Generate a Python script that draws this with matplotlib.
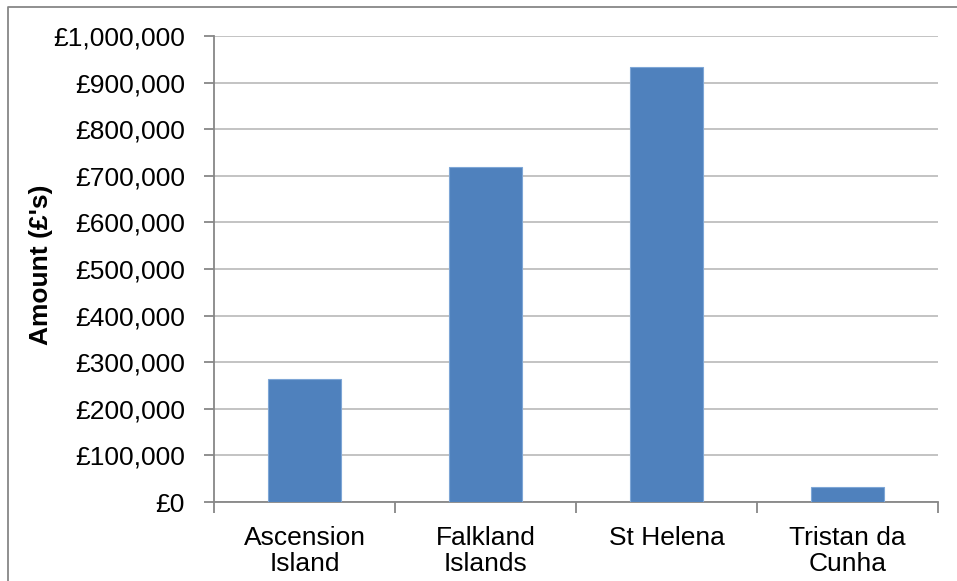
import numpy as np
import matplotlib.pyplot as plt
from matplotlib.lines import Line2D
from matplotlib.ticker import FuncFormatter

plt.rcParams['font.family'] = ['Liberation Sans', 'DejaVu Sans']

territories = ['Ascension\nIsland', 'Falkland\nIslands', 'St Helena', 'Tristan da\nCunha']
amounts = [264000, 719000, 933000, 32000]
y_ticks = np.arange(0, 1000001, 100000)

W, H = 957, 581
fig = plt.figure(figsize=(W / 100, H / 100), dpi=100)
ax = fig.add_axes([214 / W, 1 - 502 / H, (938 - 214) / W, (502 - 36) / H])

x = np.arange(len(territories))
ax.bar(x, amounts, width=0.4, color='#4F81BD', edgecolor='#7EA6D6', linewidth=0.8, zorder=3)

ax.set_xlim(-0.5, len(territories) - 0.5)
ax.set_ylim(0, 1000000)
ax.set_yticks(y_ticks)
ax.yaxis.set_major_formatter(FuncFormatter(lambda v, p: '£{:,.0f}'.format(v)))
ax.grid(axis='y', color='#BEBEBE', linewidth=1.3, zorder=0)

ax.set_xticks(np.arange(-0.5, len(territories)), labels=[''] * (len(territories) + 1))
ax.set_xticks(x, labels=territories, minor=True)
ax.tick_params(axis='x', which='major', length=8, color='#878787', width=1.3)
ax.tick_params(axis='x', which='minor', length=0, labelsize=19, pad=17)
ax.tick_params(axis='y', length=7, color='#878787', width=1.3, labelsize=19, pad=14)
for lbl in ax.get_xticklabels(minor=True):
    lbl.set_linespacing(1.15)

for s in ['top', 'right']:
    ax.spines[s].set_visible(False)
for s in ['left', 'bottom']:
    ax.spines[s].set_color('#878787')
    ax.spines[s].set_linewidth(1.3)

ax.set_ylabel("Amount (£'s)", fontsize=19, fontweight='bold')
ax.yaxis.set_label_coords(-0.222, 0.51)

# outer chart border (only top and left edges visible)
fig.add_artist(Line2D([8 / W, 8 / W, 1], [0, 1 - 7 / H, 1 - 7 / H],
                      transform=fig.transFigure, color='#878787', linewidth=1.3))

fig.savefig('out.png', dpi=100)
